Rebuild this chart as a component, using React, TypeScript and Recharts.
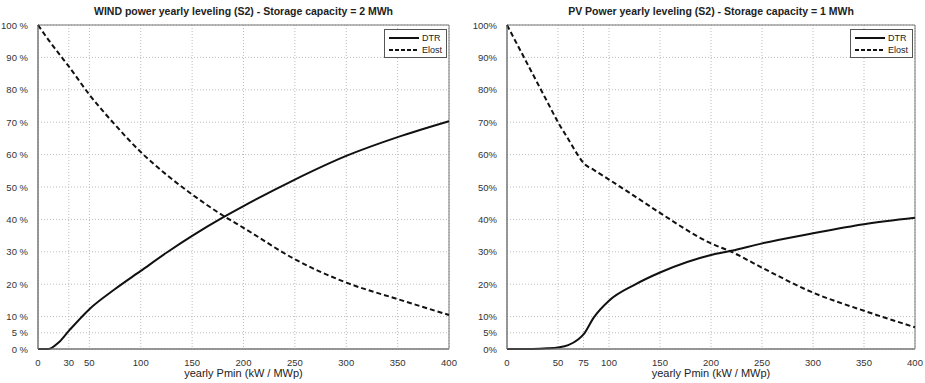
import React from 'react';
import {
  LineChart,
  Line,
  XAxis,
  YAxis,
  CartesianGrid,
  Legend,
  ReferenceArea
} from 'recharts';

// WIND chart (storage 2 MWh)
const windX = [0, 10, 20, 30, 50, 75, 100, 125, 150, 180, 200, 250, 300, 350, 400];
const windDtr = [0, 0, 2, 5.6, 12.3, 18.5, 24.1, 29.7, 34.9, 40.6, 44.1, 52.3, 59.6, 65.4, 70.3];
const windElost = [100, 95.5, 91.3, 87.2, 78.5, 69.2, 60.8, 53.8, 47.7, 41.2, 37.4, 27.7, 20.5, 15.4, 10.5];
const windXTicks = [0, 30, 50, 100, 150, 200, 250, 300, 350, 400];

// PV chart (storage 1 MWh)
const pvX = [0, 25, 40, 50, 60, 70, 75, 85, 100, 125, 150, 200, 220, 250, 300, 350, 400];
const pvDtr = [0, 0, 0.2, 0.5, 1.2, 3, 4.5, 9.7, 14.9, 19.8, 23.6, 29, 30.3, 32.6, 35.7, 38.5, 40.5];
const pvElost = [100, 85, 76, 70, 64.8, 59.6, 57.4, 55.3, 52.3, 47.2, 42, 32.6, 30, 25.1, 17.4, 11.8, 6.7];
const pvXTicks = [0, 50, 75, 100, 150, 200, 250, 300, 350, 400];

const yTicks = [0, 5, 10, 20, 30, 40, 50, 60, 70, 80, 90, 100];

const FONT = '"Liberation Sans", Arial, Helvetica, sans-serif';
const tickStyle = { fontSize: 9.5, fill: '#333', fontFamily: FONT };

const toRows = (xs: number[], dtr: number[], elost: number[]) =>
  xs.map((x, i) => ({ x, dtr: dtr[i], elost: elost[i] }));

const LegendBox = () => (
  <div
    style={{
      border: '1px solid #555',
      background: '#fff',
      padding: '2px 4px 1px 4px',
      fontFamily: FONT,
      fontSize: 9,
      color: '#222',
      lineHeight: '12px'
    }}
  >
    <div style={{ display: 'flex', alignItems: 'center' }}>
      <svg width={30} height={8}>
        <line x1={0} y1={4} x2={30} y2={4} stroke="#111" strokeWidth={2} />
      </svg>
      <span style={{ marginLeft: 3 }}>DTR</span>
    </div>
    <div style={{ display: 'flex', alignItems: 'center' }}>
      <svg width={30} height={8}>
        <line x1={0} y1={4} x2={30} y2={4} stroke="#111" strokeWidth={2} strokeDasharray="4 2" />
      </svg>
      <span style={{ marginLeft: 3 }}>Elost</span>
    </div>
  </div>
);

const makeYTick = (sep: string) => (props: any) => {
  const { x, y, payload } = props;
  return (
    <text x={x} y={y} dy={3.5} textAnchor="end" {...tickStyle}>
      {`${payload.value}${sep}%`}
    </text>
  );
};

type PanelProps = {
  left: number;
  width: number;
  yAxisWidth: number;
  rightMargin: number;
  title: string;
  data: { x: number; dtr: number; elost: number }[];
  xTicks: number[];
  unitSep: string;
};

const Panel: React.FC<PanelProps> = ({ left, width, yAxisWidth, rightMargin, title, data, xTicks, unitSep }) => {
  const plotLeft = yAxisWidth;
  const plotWidth = width - yAxisWidth - rightMargin;
  return (
    <div style={{ position: 'absolute', left, top: 0, width, height: 383 }}>
      <div
        style={{
          position: 'absolute',
          left: plotLeft,
          width: plotWidth,
          top: 5,
          textAlign: 'center',
          fontFamily: FONT,
          fontWeight: 'bold',
          fontSize: 10.5,
          color: '#222'
        }}
      >
        {title}
      </div>
      <LineChart
        width={width}
        height={383}
        margin={{ top: 25, right: rightMargin, bottom: 0, left: 0 }}
        data={data}
      >
        <CartesianGrid stroke="#bbb" strokeDasharray="1 2" />
        <XAxis
          dataKey="x"
          type="number"
          domain={[0, 400]}
          ticks={xTicks}
          interval={0}
          height={34}
          tick={tickStyle}
          tickLine={false}
          tickMargin={4}
          axisLine={{ stroke: '#777' }}
          label={{ value: 'yearly Pmin (kW / MWp)', position: 'insideBottom', offset: 6, style: { fontSize: 11, fill: '#222', fontFamily: FONT } }}
        />
        <YAxis
          type="number"
          domain={[0, 100]}
          ticks={yTicks}
          interval={0}
          width={yAxisWidth}
          tick={makeYTick(unitSep)}
          tickLine={false}
          tickMargin={4}
          axisLine={{ stroke: '#777' }}
        />
        <ReferenceArea x1={0} x2={400} y1={0} y2={100} fill="none" stroke="#777" strokeWidth={1} />
        <Legend
          verticalAlign="middle"
          align="center"
          layout="horizontal"
          content={() => <LegendBox />}
          wrapperStyle={{ top: 29, right: rightMargin + 2, left: 'auto', width: 'auto' }}
        />
        <Line
          type="monotone"
          dataKey="dtr"
          name="DTR"
          stroke="#111"
          strokeWidth={2}
          dot={false}
          isAnimationActive={false}
        />
        <Line
          type="monotone"
          dataKey="elost"
          name="Elost"
          stroke="#111"
          strokeWidth={2}
          strokeDasharray="5 3"
          dot={false}
          isAnimationActive={false}
        />
      </LineChart>
    </div>
  );
};

const App: React.FC = () => (
  <div style={{ position: 'absolute', left: 0, top: 0, width: 925, height: 383, background: '#fff' }}>
    <Panel
      left={0}
      width={460}
      yAxisWidth={38}
      rightMargin={11}
      title="WIND power yearly leveling (S2) - Storage capacity = 2 MWh"
      data={toRows(windX, windDtr, windElost)}
      xTicks={windXTicks}
      unitSep=" "
    />
    <Panel
      left={460}
      width={465}
      yAxisWidth={47}
      rightMargin={10}
      title="PV Power yearly leveling (S2) - Storage capacity = 1 MWh"
      data={toRows(pvX, pvDtr, pvElost)}
      xTicks={pvXTicks}
      unitSep=""
    />
  </div>
);

export default App;
